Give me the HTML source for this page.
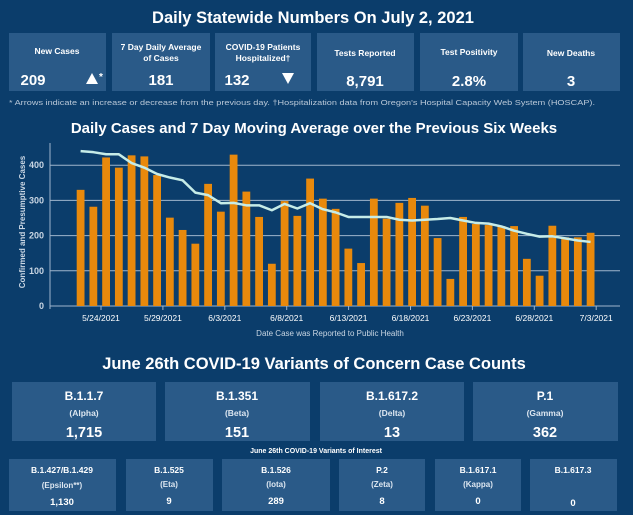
<!DOCTYPE html>
<html><head><meta charset="utf-8"><style>
html,body{margin:0;padding:0;background:#0b3d6b;}
svg{display:block;font-family:"Liberation Sans Narrow","Liberation Sans",sans-serif;}
</style></head><body>
<svg id="s" width="633" height="515" viewBox="0 0 633 515" xmlns="http://www.w3.org/2000/svg">
<rect width="633" height="515" fill="#0b3d6b"/>
<g fill="#fff" font-weight="bold" text-anchor="middle">
<text x="313" y="23" font-size="16.5">Daily Statewide Numbers On July 2, 2021</text>
</g>
<g fill="#2a5a88">
<rect x="9" y="33" width="97" height="58"/><rect x="112" y="33" width="98" height="58"/>
<rect x="215" y="33" width="96" height="58"/><rect x="317" y="33" width="97" height="58"/>
<rect x="420" y="33" width="98" height="58"/><rect x="523" y="33" width="97" height="58"/>
</g>
<g fill="#fff" text-anchor="middle" font-size="8.5" font-weight="bold">
<text x="57" y="54">New Cases</text>
<text x="161" y="50">7 Day Daily Average</text><text x="161" y="61">of Cases</text>
<text x="263" y="50">COVID-19 Patients</text><text x="263" y="61">Hospitalized†</text>
<text x="365" y="56">Tests Reported</text>
<text x="469" y="55">Test Positivity</text>
<text x="571" y="56">New Deaths</text>
</g>
<g fill="#fff" font-size="15" font-weight="bold" text-anchor="middle">
<text x="33" y="85">209</text>
<text x="161" y="85">181</text>
<text x="237" y="85">132</text>
<text x="365" y="86">8,791</text>
<text x="469" y="86">2.8%</text>
<text x="571" y="86">3</text>
</g>
<polygon points="86,84 92,73 98,84" fill="#fff"/><text x="99" y="80" fill="#fff" font-size="10" font-weight="bold">*</text>
<polygon points="282,73 294,73 288,84" fill="#fff"/>
<text x="9" y="105" fill="#b9c8d8" font-size="7.5" textLength="586" lengthAdjust="spacingAndGlyphs">* Arrows indicate an increase or decrease from the previous day. †Hospitalization data from Oregon's Hospital Capacity Web System (HOSCAP).</text>
<text x="314" y="133" fill="#fff" font-size="15" font-weight="bold" text-anchor="middle">Daily Cases and 7 Day Moving Average over the Previous Six Weeks</text>
<g id="chart"></g>
<text x="25" y="222" fill="#c9d6e3" font-size="8" font-weight="bold" text-anchor="middle" transform="rotate(-90 25 222)">Confirmed and Presumptive Cases</text>
<text x="330" y="336" fill="#c9d6e3" font-size="8" text-anchor="middle">Date Case was Reported to Public Health</text>
<text x="314" y="369" fill="#fff" font-size="16.5" font-weight="bold" text-anchor="middle">June 26th  COVID-19 Variants of Concern Case Counts</text>
<g fill="#2a5a88">
<rect x="12" y="382" width="144" height="59"/><rect x="165" y="382" width="145" height="59"/>
<rect x="320" y="382" width="144" height="59"/><rect x="473" y="382" width="145" height="59"/>
<rect x="9" y="459" width="107" height="52"/><rect x="126" y="459" width="87" height="52"/>
<rect x="222" y="459" width="108" height="52"/><rect x="339" y="459" width="86" height="52"/>
<rect x="435" y="459" width="86" height="52"/><rect x="530" y="459" width="87" height="52"/>
</g>
<g fill="#fff" text-anchor="middle" font-weight="bold">
<g font-size="12"><text x="84" y="400">B.1.1.7</text><text x="237" y="400">B.1.351</text><text x="392" y="400">B.1.617.2</text><text x="545" y="400">P.1</text></g>
<g font-size="8.5" fill="#dce6f0"><text x="84" y="416">(Alpha)</text><text x="237" y="416">(Beta)</text><text x="392" y="416">(Delta)</text><text x="545" y="416">(Gamma)</text></g>
<g font-size="14.5"><text x="84" y="437">1,715</text><text x="237" y="437">151</text><text x="392" y="437">13</text><text x="545" y="437">362</text></g>
<text x="316" y="453" font-size="7">June 26th COVID-19 Variants of Interest</text>
<g font-size="8.5"><text x="62" y="473">B.1.427/B.1.429</text><text x="169" y="473">B.1.525</text><text x="276" y="473">B.1.526</text><text x="382" y="473">P.2</text><text x="478" y="473">B.1.617.1</text><text x="573" y="473">B.1.617.3</text></g>
<g font-size="8" fill="#dce6f0"><text x="62" y="488">(Epsilon**)</text><text x="169" y="487">(Eta)</text><text x="276" y="487">(Iota)</text><text x="382" y="487">(Zeta)</text><text x="478" y="487">(Kappa)</text></g>
<g font-size="9.5"><text x="62" y="505">1,130</text><text x="169" y="504">9</text><text x="276" y="504">289</text><text x="382" y="504">8</text><text x="478" y="504">0</text><text x="573" y="506">0</text></g>
</g>
</svg>
<script>
var g=document.getElementById('chart'),h='';
function Y(v){return 306-v*0.352;}
[0,100,200,300,400].forEach(function(v){h+='<line x1="50" x2="620" y1="'+Y(v)+'" y2="'+Y(v)+'" stroke="#9fb5cc" stroke-width="1"/>';
h+='<text x="44" y="'+(Y(v)+3)+'" fill="#c9d6e3" font-size="9" font-weight="bold" text-anchor="end">'+v+'</text>';});
h+='<line x1="50" x2="50" y1="143" y2="309" stroke="#9fb5cc"/>';
var b=[330,282,422,393,428,425,372,251,216,177,347,268,430,325,253,120,298,256,362,305,276,163,122,305,248,293,307,285,193,77,253,233,230,227,227,134,86,228,195,195,208];
var a=[440,437,431,431,406,393,375,365,357,322,315,292,293,286,286,272,290,277,292,275,266,253,253,253,253,245,243,245,247,250,243,236,234,226,214,205,197,198,192,186,182,180];
var pts=[];
for(var i=0;i<b.length;i++){var x=76.7+i*12.75;h+='<rect x="'+x+'" y="'+Y(b[i])+'" width="7.8" height="'+(b[i]*0.352)+'" fill="#e8890c"/>';}
for(var i=0;i<41;i++){pts.push((80.6+i*12.75)+','+Y(a[i]));}
h+='<polyline points="'+pts.join(' ')+'" fill="none" stroke="#c6ece8" stroke-width="2.5" stroke-linejoin="round"/>';
var L=['5/24/2021','5/29/2021','6/3/2021','6/8/2021','6/13/2021','6/18/2021','6/23/2021','6/28/2021','7/3/2021'];
for(var j=0;j<9;j++){var x=101+j*61.9;h+='<line x1="'+x+'" x2="'+x+'" y1="306" y2="310" stroke="#9fb5cc"/><text x="'+x+'" y="321" fill="#fff" font-size="8.5" text-anchor="middle">'+L[j]+'</text>';}
g.innerHTML=h;
</script>
</body></html>
